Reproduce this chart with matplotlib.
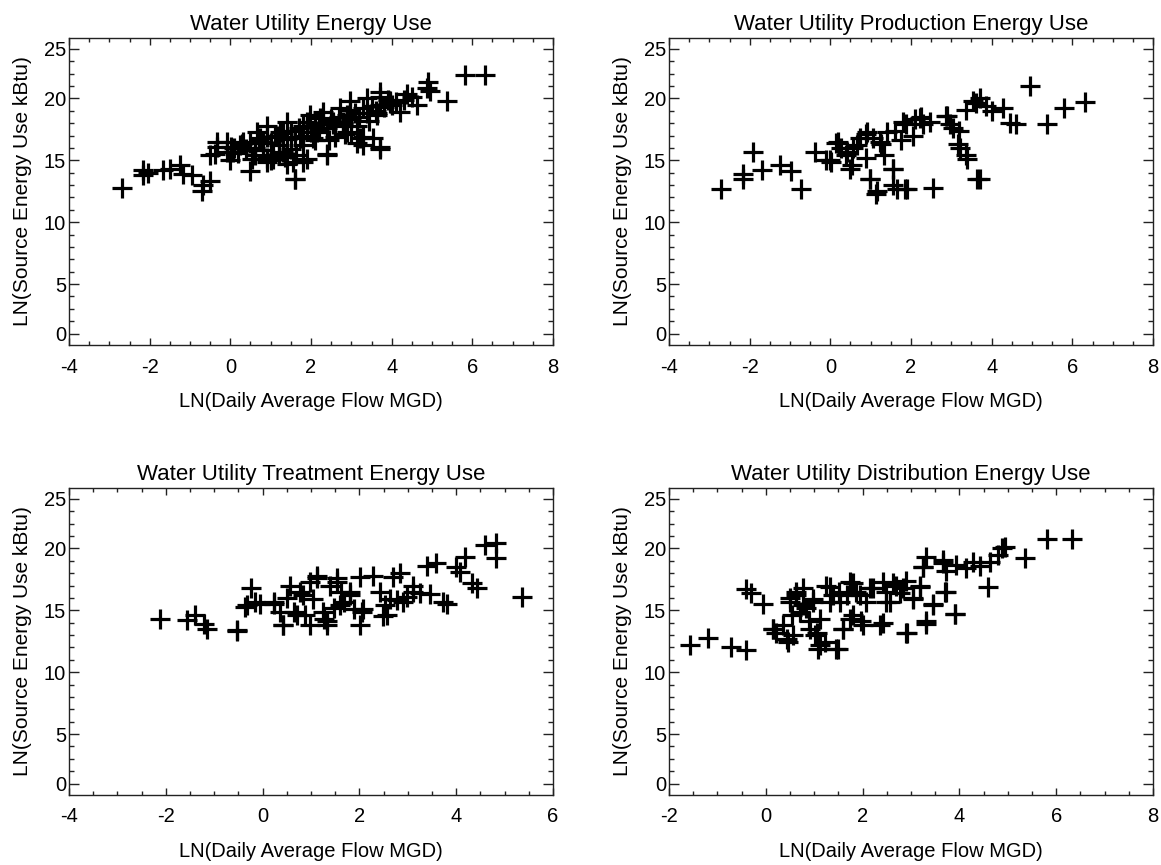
import numpy as np
import matplotlib
matplotlib.use("Agg")
import matplotlib.pyplot as plt
from matplotlib.ticker import FixedLocator

# ---------------- data ----------------
titles = ["Water Utility Energy Use", "Water Utility Production Energy Use",
          "Water Utility Treatment Energy Use", "Water Utility Distribution Energy Use"]
x_label = "LN(Daily Average Flow MGD)"
y_label = "LN(Source Energy Use kBtu)"
x_limits = [(-4, 8), (-4, 8), (-4, 6), (-2, 8)]
x_ticks = [[-4, -2, 0, 2, 4, 6, 8], [-4, -2, 0, 2, 4, 6, 8],
           [-4, -2, 0, 2, 4, 6], [-2, 0, 2, 4, 6, 8]]
y_ticks = [0, 5, 10, 15, 20, 25]

# Total energy use
p1_x = [-2.69, -2.16, -2.16, -2.05, -1.66, -1.50, -1.25, -1.18, -0.96, -0.71, -0.67, -0.50,
        -0.38, -0.34, -0.09, 0.00, 0.02, 0.24, 0.49, 0.61, 0.74, 0.90, 1.07, 1.23, 1.40,
        1.60, 1.64, 1.81, 1.89, 2.06, 2.22, 2.39, 2.55, 2.80, 2.97, 3.13, 3.30, 3.71, 3.63,
        3.71, 3.96, 4.20, 4.37, 4.62, 4.87, 4.91, 4.95, 5.36, 5.82, 6.31,
        -0.50, -0.33, -0.08, 0.07, 0.31, 0.53, 0.66, 0.81, 0.91, 1.06, 1.16, 1.31, 1.41,
        1.56, 1.61, 1.73, 1.81, 1.90, 1.98, 2.15, 2.30, 2.40, 2.55, 2.72, 2.89, 2.97, 3.14,
        3.22, 3.29, 3.39, 3.54, 3.64, 3.71, 3.71, 3.96,
        0.10, 0.20, 0.30, 0.40, 0.50, 0.60, 0.70, 0.80, 0.90, 1.00, 1.10, 1.20, 1.30, 1.40,
        1.50, 1.60, 1.70, 1.80, 1.90, 2.00, 2.10, 2.20, 2.30, 2.40, 2.50, 2.60, 2.70, 2.80,
        2.90, 3.00, 3.10, 3.20, 3.30, 3.40, 3.50, 3.60, 3.70, 3.80, 3.90, 4.00, 4.10, 4.30,
        4.50, 0.60, 0.90, 1.20, 1.50, 1.80, 2.10, 2.60, 3.00, 1.00, 1.35, 2.45, 2.85, 3.45]
p1_y = [12.8, 14.2, 13.8, 14.0, 14.2, 14.3, 14.6, 13.9, 13.8, 12.5, 13.0, 13.3,
        15.5, 16.1, 15.7, 15.0, 16.1, 16.2, 14.1, 15.8, 16.8, 14.9, 15.4, 17.3, 14.7,
        13.5, 15.4, 14.9, 18.1, 16.8, 18.4, 15.5, 17.9, 18.1, 19.1, 16.4, 16.9, 16.1, 18.8,
        20.1, 19.6, 18.9, 20.4, 19.5, 21.1, 21.7, 20.7, 19.8, 22.4, 22.4,
        15.4, 16.5, 16.5, 15.7, 16.5, 15.1, 17.3, 16.5, 17.8, 15.1, 17.0, 15.7, 18.1,
        14.9, 13.5, 16.8, 17.8, 15.1, 18.7, 17.3, 18.9, 15.4, 18.1, 19.2, 17.3, 19.8, 17.8,
        16.8, 16.2, 20.0, 16.8, 18.7, 20.6, 15.9, 19.8,
        16.0, 15.6, 16.3, 15.9, 16.4, 16.0, 16.6, 15.8, 16.9, 16.4, 17.0, 16.2, 17.2, 16.7,
        17.4, 16.9, 17.6, 17.0, 17.7, 17.3, 17.9, 17.5, 18.0, 17.6, 18.3, 17.8, 18.5, 18.0,
        18.7, 18.3, 18.8, 18.5, 19.2, 18.8, 19.4, 19.0, 19.5, 19.3, 19.9, 19.5, 19.7, 19.9,
        20.1, 15.4, 15.2, 15.5, 15.9, 16.2, 16.6, 16.9, 17.2, 15.0, 15.3, 16.6, 17.1, 18.2]

# Production energy use
p2_x = [-2.70, -2.17, -2.17, -1.92, -1.69, -1.26, -0.97, -0.72, -0.39, -0.10, 0.02, 0.15,
        0.27, 0.40, 0.48, 0.55, 0.73, 0.89, 0.89, 0.98, 1.14, 1.05, 1.25, 1.33, 1.55, 1.55,
        1.84, 1.60, 1.88, 1.75, 2.10, 2.26, 2.30, 2.55, 2.88, 2.96, 3.20, 3.17, 3.37, 3.37,
        3.60, 3.70, 3.70, 3.86, 4.02, 4.28, 4.45, 4.61, 4.94, 5.36, 5.79, 6.31,
        0.00, 0.19, 0.41, 0.54, 0.66, 0.91, 0.98, 1.16, 1.23, 1.40, 1.56, 1.65, 1.80, 1.90,
        2.05, 2.22, 2.47, 2.89, 3.04, 3.22, 3.39, 3.54, 3.64]
p2_y = [12.7, 13.9, 13.5, 15.7, 14.2, 14.6, 14.1, 12.7, 15.7, 15.0, 14.9, 16.4,
        16.0, 15.4, 14.3, 16.0, 16.8, 17.1, 15.2, 13.5, 12.3, 16.8, 16.3, 15.4, 14.3, 13.0,
        12.7, 17.4, 17.9, 16.6, 18.3, 18.5, 17.9, 12.8, 18.6, 17.9, 17.4, 16.3, 15.4, 19.1,
        19.6, 20.0, 13.5, 19.4, 19.0, 19.2, 18.0, 17.9, 21.3, 17.9, 19.2, 19.7,
        15.0, 16.5, 15.7, 14.6, 16.2, 17.3, 13.5, 12.5, 16.5, 17.3, 14.3, 12.7, 18.1, 12.7,
        17.0, 18.4, 18.1, 18.6, 17.6, 16.0, 15.1, 19.8, 13.5]

# Treatment energy use
p3_x = [-2.13, -1.56, -1.39, -1.22, -1.15, -0.52, -0.36, -0.25, -0.15, -0.05, 0.23, 0.36,
        0.43, 0.50, 0.57, 0.64, 0.78, 0.88, 0.98, 1.05, 1.12, 1.26, 1.33, 1.40, 1.47, 1.54,
        1.61, 1.68, 1.81, 1.88, 2.01, 2.05, 2.01, 2.29, 2.43, 2.49, 2.53, 2.64, 2.70, 2.77,
        2.84, 2.98, 3.11, 3.25, 3.39, 3.46, 3.59, 3.73, 3.80, 4.00, 4.08, 4.18, 4.32, 4.42,
        4.59, 4.83, 4.83, 5.35,
        -0.32, -0.53, 0.23, 0.43, 0.71, 0.84, 1.12, 0.98, 1.25, 1.33, 1.54, 1.60, 1.81,
        2.08, 2.57, 2.91, 3.11]
p3_y = [14.27, 14.2, 14.6, 13.9, 13.5, 13.3, 15.3, 16.8, 15.7, 15.5, 15.5, 14.9,
        13.8, 16.0, 17.0, 14.9, 16.5, 14.6, 17.3, 15.9, 17.6, 14.3, 14.1, 17.0, 15.2, 17.3,
        16.5, 15.7, 16.2, 15.1, 17.7, 14.9, 13.8, 17.8, 16.5, 14.5, 15.4, 15.9, 17.7, 15.8,
        18.0, 16.1, 17.0, 16.4, 18.6, 16.3, 18.8, 15.7, 15.5, 18.5, 18.1, 19.3, 17.2, 16.8,
        20.3, 20.5, 19.2, 16.1,
        15.4, 13.4, 15.7, 13.8, 14.6, 16.2, 17.8, 13.8, 14.9, 13.8, 17.6, 15.4, 16.5,
        15.1, 14.6, 15.7, 16.5]

# Distribution energy use
p4_x = [-1.57, -1.19, -0.71, -0.40, -0.40, -0.30, -0.06, 0.15, 0.22, 0.36, 0.46, 0.49,
        0.56, 0.63, 0.70, 0.77, 0.84, 0.91, 0.98, 1.01, 1.08, 1.11, 1.22, 1.32, 1.39, 1.49,
        1.53, 1.60, 1.67, 1.73, 1.80, 1.87, 1.97, 2.08, 2.21, 2.42, 2.49, 2.56, 2.63, 2.77,
        2.90, 2.90, 3.04, 3.18, 3.25, 3.32, 3.32, 3.45, 3.66, 3.70, 3.73, 3.90, 3.93, 4.14,
        4.28, 4.42, 4.59, 4.63, 4.80, 4.87, 4.94, 5.35, 5.80, 6.33,
        0.14, 0.43, 0.49, 0.55, 0.63, 0.76, 0.90, 0.97, 1.05, 1.11, 1.25, 1.32, 1.46, 1.52,
        1.59, 1.73, 1.80, 1.94, 2.00, 2.15, 2.35, 2.42, 2.49, 2.70, 2.83, 2.91, 3.04, 3.18,
        3.25, 3.32, 3.45, 3.66, 3.73, 3.90]
p4_y = [12.2, 12.8, 12.0, 11.8, 16.7, 16.4, 15.5, 13.5, 13.2, 13.8, 12.4, 15.7,
        13.0, 16.2, 14.9, 16.8, 15.2, 13.5, 15.9, 13.0, 11.9, 14.3, 12.4, 16.9, 16.2, 11.9,
        15.7, 13.5, 16.2, 14.3, 17.2, 16.5, 14.1, 15.7, 16.8, 14.0, 16.5, 15.7, 17.2, 16.4,
        13.2, 17.4, 15.9, 16.9, 18.5, 13.9, 19.3, 15.5, 19.1, 16.5, 18.2, 14.7, 18.7, 18.4,
        18.9, 18.6, 16.9, 18.9, 19.5, 20.0, 20.1, 19.2, 20.9, 20.9,
        13.5, 12.7, 16.0, 14.6, 16.5, 15.4, 14.1, 15.7, 13.2, 12.2, 17.0, 15.7, 11.9, 16.5,
        13.5, 17.3, 14.6, 16.2, 13.8, 16.8, 13.8, 17.3, 15.7, 17.0, 16.8, 13.2, 16.0, 17.0,
        18.5, 14.1, 15.4, 18.8, 16.5, 14.7]

panel_x = [p1_x, p2_x, p3_x, p4_x]
panel_y = [p1_y, p2_y, p3_y, p4_y]

# The reference's y axis has uneven spacing between its labelled ticks:
# each 5-unit step spans 5 tick intervals, except 0-5 and 20-25 which span 4.
YK = np.array([-5.0, 0.0, 5.0, 10.0, 15.0, 20.0, 25.0, 30.0])
TK = np.array([-4.0, 0.0, 4.0, 9.0, 14.0, 19.0, 23.0, 27.0])


def fwd(v):
    return np.interp(np.asarray(v, dtype=float), YK, TK)


def inv(v):
    return np.interp(np.asarray(v, dtype=float), TK, YK)


# ---------------- figure ----------------
plt.rcParams['font.family'] = ['Liberation Sans', 'DejaVu Sans']
W, H = 1161, 865
fig = plt.figure(figsize=(W / 100, H / 100), dpi=100)

boxes = [(69, 553, 38, 345), (669, 1153, 38, 345),
         (69, 553, 488, 795), (669, 1153, 488, 795)]

for i in range(4):
    l, r, t, b = boxes[i]
    ax = fig.add_axes([l / W, 1 - b / H, (r - l) / W, (b - t) / H])
    ax.set_yscale('function', functions=(fwd, inv))
    ax.plot(panel_x[i], panel_y[i], linestyle='none', marker='+', markersize=14.5,
            markeredgewidth=2.3, color='black')
    ax.set_xlim(*x_limits[i])
    ax.set_ylim(-1.15, 26.1)
    ax.set_xticks(x_ticks[i])
    ax.set_xticklabels([str(v) for v in x_ticks[i]])
    ax.xaxis.set_minor_locator(FixedLocator(np.arange(x_limits[i][0], x_limits[i][1] + 0.01, 0.5)))
    ax.yaxis.set_major_locator(FixedLocator(y_ticks))
    ax.set_yticklabels([str(v) for v in y_ticks])
    ax.yaxis.set_minor_locator(FixedLocator(inv(np.arange(0, 24))))
    ax.tick_params(which='both', direction='in', top=True, right=True, width=1.0,
                   color='#222222', labelsize=14.5)
    ax.tick_params(axis='x', which='major', length=5, pad=9)
    ax.tick_params(axis='x', which='minor', length=3)
    ax.tick_params(axis='y', which='major', length=7, pad=2)
    ax.tick_params(axis='y', which='minor', length=3.6)
    for s in ax.spines.values():
        s.set_linewidth(1.0)
        s.set_color('#222222')
    ax.set_title(titles[i], fontsize=16, pad=6)
    ax.set_xlabel(x_label, fontsize=14.5)
    ax.set_ylabel(y_label, fontsize=15)
    ax.xaxis.set_label_coords(0.5, -0.152)
    ax.yaxis.set_label_coords(-0.0764, 0.5)

fig.savefig('out.png', dpi=100)
